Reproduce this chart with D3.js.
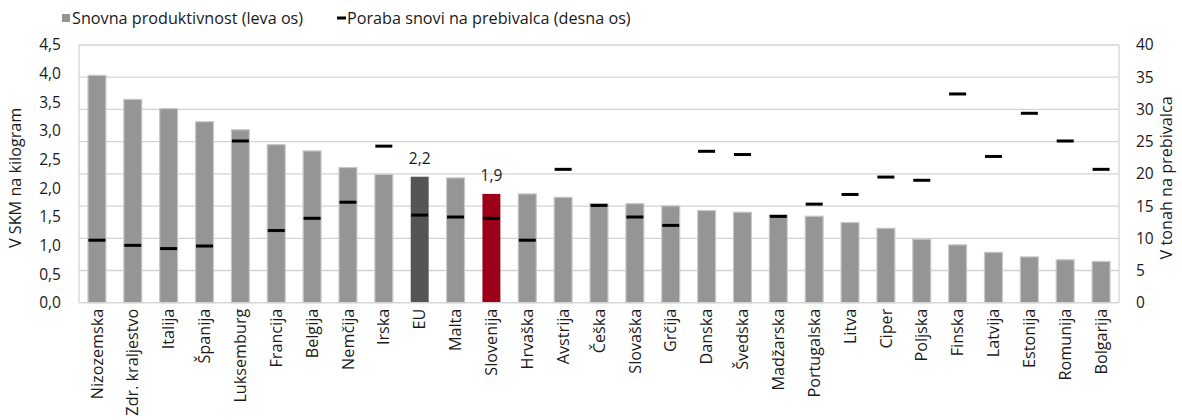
<!DOCTYPE html>
<html>
<head>
<meta charset="utf-8">
<script src="https://cdn.jsdelivr.net/npm/d3@7"></script>
<style>
  html, body { margin: 0; padding: 0; background: #fff; }
  svg { display: block; }
  text { font-family: "Open Sans", "Noto Sans", sans-serif; fill: #1a1a1a; }
</style>
</head>
<body>
<svg id="chart" width="1182" height="420"></svg>
<script>
// Countries, ordered by material productivity
const categories = ["Nizozemska", "Zdr. kraljestvo", "Italija", "Španija", "Luksemburg", "Francija",
  "Belgija", "Nemčija", "Irska", "EU", "Malta", "Slovenija", "Hrvaška", "Avstrija", "Češka",
  "Slovaška", "Grčija", "Danska", "Švedska", "Madžarska", "Portugalska", "Litva", "Ciper",
  "Poljska", "Finska", "Latvija", "Estonija", "Romunija", "Bolgarija"];

// Material productivity, PPS per kilogram (left axis)
const productivity = [3.97, 3.55, 3.39, 3.16, 3.02, 2.76, 2.65, 2.36, 2.24, 2.2, 2.18, 1.9, 1.9,
  1.84, 1.73, 1.73, 1.69, 1.61, 1.58, 1.53, 1.51, 1.40, 1.30, 1.11, 1.01, 0.88, 0.80, 0.75, 0.72];

// Domestic material consumption, tonnes per capita (right axis)
const consumption = [9.7, 8.9, 8.4, 8.8, 25.1, 11.2, 13.1, 15.6, 24.3, 13.6, 13.3, 13.1, 9.7,
  20.7, 15.1, 13.3, 12.0, 23.5, 23.0, 13.4, 15.3, 16.8, 19.5, 19.0, 32.4, 22.7, 29.4, 25.1, 20.7];

// Value labels shown above selected bars
const labelled = ["EU", "Slovenija"];

const leftTicks = [0, 0.5, 1, 1.5, 2, 2.5, 3, 3.5, 4, 4.5];
const rightTicks = [0, 5, 10, 15, 20, 25, 30, 35, 40];

const svg = d3.select("#chart");
const m = { left: 79, right: 1119, top: 45, bottom: 302.7 };
const FS = 16.2;   // text size
const FT = 15.5;   // tick number size

const x = d3.scaleBand().domain(categories).range([m.left, m.right]).paddingInner(0.5).paddingOuter(0.25);
const yL = d3.scaleLinear().domain([0, 4.5]).range([m.bottom, m.top]);
const yR = d3.scaleLinear().domain([0, 40]).range([m.bottom, m.top]);

const fmt = d3.formatLocale({ decimal: ",", thousands: ".", grouping: [3], currency: ["", "€"] });
const f1 = fmt.format(".1f");

// Gridlines follow the right axis
svg.append("g").selectAll("line").data(rightTicks).join("line")
  .attr("x1", m.left).attr("x2", m.right)
  .attr("y1", d => yR(d)).attr("y2", d => yR(d))
  .attr("stroke", "#d4d4d4").attr("stroke-width", 1.3);

// Plot frame sides
svg.append("line").attr("x1", m.left).attr("x2", m.left).attr("y1", m.top).attr("y2", m.bottom)
  .attr("stroke", "#d4d4d4").attr("stroke-width", 1.3);
svg.append("line").attr("x1", m.right).attr("x2", m.right).attr("y1", m.top).attr("y2", m.bottom)
  .attr("stroke", "#d4d4d4").attr("stroke-width", 1.3);

// Bars
const barColor = d => d === "EU" ? "#555555" : d === "Slovenija" ? "#9c0019" : "#959595";
svg.append("g").selectAll("rect").data(categories).join("rect")
  .attr("x", d => x(d))
  .attr("width", x.bandwidth())
  .attr("y", (d, i) => yL(productivity[i]))
  .attr("height", (d, i) => yL(0) - yL(productivity[i]))
  .attr("fill", barColor)
  .attr("stroke", d => (d === "EU" || d === "Slovenija") ? "none" : "#c8c8c8")
  .attr("stroke-width", 1.2);

// Consumption markers
svg.append("g").selectAll("rect").data(categories).join("rect")
  .attr("x", d => x(d) + x.bandwidth() / 2 - 8.5)
  .attr("width", 17)
  .attr("y", (d, i) => yR(consumption[i]) - 1.5)
  .attr("height", 3)
  .attr("fill", "#000");

// Value labels
svg.append("g").selectAll("text").data(labelled).join("text")
  .attr("x", d => x(d) + x.bandwidth() / 2)
  .attr("y", d => yL(productivity[categories.indexOf(d)]) - 13)
  .attr("text-anchor", "middle")
  .attr("font-size", FT)
  .text(d => f1(productivity[categories.indexOf(d)]));

// Bottom axis line
svg.append("line").attr("x1", m.left).attr("x2", m.right).attr("y1", m.bottom).attr("y2", m.bottom)
  .attr("stroke", "#d4d4d4").attr("stroke-width", 1.3);

// Left axis labels
const axL = svg.append("g").attr("transform", `translate(${m.left},0)`)
  .call(d3.axisLeft(yL).tickValues(leftTicks).tickFormat(f1).tickSize(0).tickPadding(18));
axL.select(".domain").remove();
axL.selectAll("text").attr("font-size", FT).attr("font-family", null).attr("fill", "#1a1a1a");

// Right axis labels
const axR = svg.append("g").attr("transform", `translate(${m.right},0)`)
  .call(d3.axisRight(yR).tickValues(rightTicks).tickFormat(d3.format("d")).tickSize(0).tickPadding(17));
axR.select(".domain").remove();
axR.selectAll("text").attr("font-size", FT).attr("font-family", null).attr("fill", "#1a1a1a");

// Category labels, rotated
const axB = svg.append("g").attr("transform", `translate(0,${m.bottom})`)
  .call(d3.axisBottom(x).tickSize(0).tickPadding(0));
axB.select(".domain").remove();
axB.selectAll("text")
  .attr("font-size", FS).attr("font-family", null).attr("fill", "#1a1a1a")
  .attr("transform", "rotate(-90)")
  .attr("text-anchor", "end")
  .attr("x", -6).attr("y", 0).attr("dy", "0.35em");

// Axis titles
svg.append("text").attr("transform", `translate(21,${(m.top + m.bottom) / 2 + 4}) rotate(-90)`)
  .attr("text-anchor", "middle").attr("font-size", FS).text("V SKM na kilogram");
svg.append("text").attr("transform", `translate(1172,${(m.top + m.bottom) / 2 + 4}) rotate(-90)`)
  .attr("text-anchor", "middle").attr("font-size", FS).text("V tonah na prebivalca");

// Legend
const lg = svg.append("g");
lg.append("rect").attr("x", 62).attr("y", 14).attr("width", 8).attr("height", 8).attr("fill", "#959595");
lg.append("text").attr("x", 72).attr("y", 18).attr("dy", "0.35em").attr("font-size", FS)
  .text("Snovna produktivnost (leva os)");
lg.append("rect").attr("x", 337).attr("y", 16.5).attr("width", 9).attr("height", 3).attr("fill", "#000");
lg.append("text").attr("x", 347).attr("y", 18).attr("dy", "0.35em").attr("font-size", FS)
  .text("Poraba snovi na prebivalca (desna os)");
</script>
</body>
</html>
